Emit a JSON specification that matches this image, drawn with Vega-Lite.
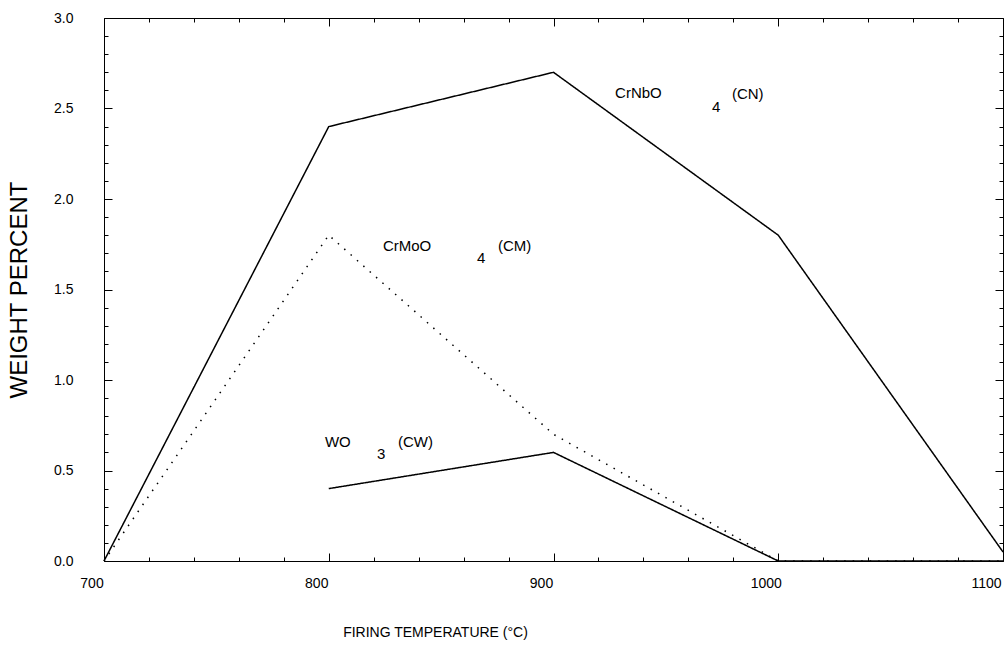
{
  "$schema": "https://vega.github.io/schema/vega-lite/v6.json",
  "width": 899,
  "height": 543,
  "autosize": {"type": "none"},
  "padding": {"left": 104, "top": 18, "right": 1, "bottom": 89},
  "background": "white",
  "config": {
    "view": {"stroke": null},
    "axis": {
      "domainColor": "black", "domainWidth": 1,
      "tickColor": "black", "tickWidth": 1,
      "labelColor": "black", "titleColor": "black",
      "grid": false, "labelOverlap": false, "labelFlush": false
    }
  },
  "datasets": {
    "curves": [
      {"series": "CN", "T": 700, "w": 0},
      {"series": "CN", "T": 800, "w": 2.4},
      {"series": "CN", "T": 900, "w": 2.7},
      {"series": "CN", "T": 1000, "w": 1.8},
      {"series": "CN", "T": 1100, "w": 0.05},
      {"series": "CM", "T": 700, "w": 0},
      {"series": "CM", "T": 800, "w": 1.8},
      {"series": "CM", "T": 900, "w": 0.7},
      {"series": "CM", "T": 1000, "w": 0},
      {"series": "CM", "T": 1100, "w": 0},
      {"series": "CW", "T": 800, "w": 0.4},
      {"series": "CW", "T": 900, "w": 0.6},
      {"series": "CW", "T": 1000, "w": 0},
      {"series": "CW", "T": 1100, "w": 0}
    ],
    "labels": [
      {"text": "CrNbO", "T": 927.4, "w": 2.586},
      {"text": "4", "T": 970.5, "w": 2.508},
      {"text": "(CN)", "T": 979.4, "w": 2.58},
      {"text": "CrMoO", "T": 824.1, "w": 1.74},
      {"text": "4", "T": 866.0, "w": 1.674},
      {"text": "(CM)", "T": 875.3, "w": 1.74},
      {"text": "WO", "T": 798.3, "w": 0.657},
      {"text": "3", "T": 821.5, "w": 0.591},
      {"text": "(CW)", "T": 830.8, "w": 0.657}
    ]
  },
  "resolve": {"axis": {"x": "independent", "y": "independent"}},
  "layer": [
    {
      "data": {"name": "curves"},
      "mark": {"type": "line", "color": "black", "strokeWidth": 1.5},
      "encoding": {
        "x": {
          "field": "T", "type": "quantitative",
          "scale": {"domain": [700, 1100], "nice": false, "zero": false},
          "axis": {
            "orient": "bottom",
            "values": [700,720,740,760,780,800,820,840,860,880,900,920,940,960,980,1000,1020,1040,1060,1080,1100],
            "tickSize": {"condition": {"test": "datum.value % 100 === 0", "value": -8}, "value": -4},
            "labelExpr": "datum.value % 100 === 0 ? datum.label : ''",
            "format": "d",
            "labelFont": "Liberation Sans", "labelFontSize": 14,
            "labelBaseline": "top", "labelAlign": "center",
            "labelPadding": 23,
            "labelOffset": {"condition": {"test": "datum.value === 1100", "value": -17}, "value": -12.5},
            "title": "FIRING TEMPERATURE (°C)",
            "titleFont": "Liberation Sans", "titleFontSize": 14, "titleFontWeight": "normal",
            "titleX": 331, "titleY": 75, "titleAlign": "center", "titleBaseline": "alphabetic"
          }
        },
        "y": {
          "field": "w", "type": "quantitative",
          "scale": {"domain": [0, 3], "nice": false, "zero": false},
          "axis": {
            "orient": "left",
            "values": [0,0.1,0.2,0.3,0.4,0.5,0.6,0.7,0.8,0.9,1.0,1.1,1.2,1.3,1.4,1.5,1.6,1.7,1.8,1.9,2.0,2.1,2.2,2.3,2.4,2.5,2.6,2.7,2.8,2.9,3.0],
            "tickSize": {"condition": {"test": "abs(datum.value*2 - round(datum.value*2)) < 0.001", "value": -8}, "value": -4},
            "labelExpr": "abs(datum.value*2 - round(datum.value*2)) < 0.001 ? datum.label : ''",
            "format": ".1f",
            "labelFont": "Liberation Sans", "labelFontSize": 14,
            "labelAlign": "right", "labelBaseline": "middle",
            "labelPadding": 39,
            "title": "WEIGHT PERCENT",
            "titleFont": "Liberation Sans", "titleFontSize": 24, "titleFontWeight": "normal",
            "titleX": -78, "titleY": 271.5, "titleAlign": "center", "titleBaseline": "alphabetic", "titleAngle": 270
          }
        },
        "detail": {"field": "series"},
        "strokeDash": {
          "field": "series", "type": "nominal",
          "scale": {"domain": ["CN", "CM", "CW"], "range": [[1, 0], [1.5, 7], [1, 0]]},
          "legend": null
        }
      }
    },
    {
      "data": {"name": "labels"},
      "mark": {"type": "text", "align": "left", "baseline": "middle", "font": "Liberation Sans", "fontSize": 15, "color": "black"},
      "encoding": {
        "x": {
          "field": "T", "type": "quantitative",
          "axis": {
            "orient": "top",
            "values": [700,720,740,760,780,800,820,840,860,880,900,920,940,960,980,1000,1020,1040,1060,1080,1100],
            "tickSize": {"condition": {"test": "datum.value % 100 === 0", "value": -8}, "value": -4},
            "labels": false, "title": null
          }
        },
        "y": {
          "field": "w", "type": "quantitative",
          "axis": {
            "orient": "right",
            "values": [0,0.1,0.2,0.3,0.4,0.5,0.6,0.7,0.8,0.9,1.0,1.1,1.2,1.3,1.4,1.5,1.6,1.7,1.8,1.9,2.0,2.1,2.2,2.3,2.4,2.5,2.6,2.7,2.8,2.9,3.0],
            "tickSize": {"condition": {"test": "abs(datum.value*2 - round(datum.value*2)) < 0.001", "value": -8}, "value": -4},
            "labels": false, "title": null
          }
        },
        "text": {"field": "text", "type": "nominal"}
      }
    }
  ]
}
